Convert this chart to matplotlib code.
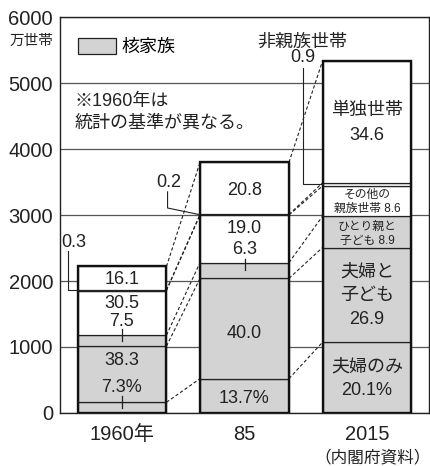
import numpy as np
import matplotlib
matplotlib.use('Agg')
import matplotlib.pyplot as plt
from matplotlib.patches import Patch

plt.rcParams['font.family'] = ['Liberation Sans', 'Noto Sans CJK JP']

# data
years = ['1960年', '85', '2015']
totals = [2220, 3798, 5333]  # 万世帯
# shares (%) from the bottom of each bar
couple_only = [7.3, 13.7, 20.1]
couple_kids = [38.3, 40.0, 26.9]
single_parent = [7.5, 6.3, 8.9]
other_kin = [30.5, 19.0, 8.6]
non_kin = [0.3, 0.2, 0.9]
single = [16.1, 20.8, 34.6]

GRAY = '#d3d3d3'
INK = '#222222'

shares = np.array([couple_only, couple_kids, single_parent, other_kin, non_kin, single])
vals = shares / 100.0 * np.array(totals)
cum = np.cumsum(vals, axis=0)
bottoms = cum - vals
colors = [GRAY, GRAY, GRAY, 'white', 'white', 'white']

x = np.arange(len(years))
w = 0.726

fig = plt.figure(figsize=(4.31, 4.66), dpi=100)
ax = fig.add_axes([60 / 431, 1 - 413 / 466, 369 / 431, 396 / 466])

for k in range(len(vals)):
    ax.bar(x, vals[k], bottom=bottoms[k], width=w, color=colors[k],
           edgecolor=INK, linewidth=0.9, zorder=3)
ax.bar(x, totals, width=w, fill=False, edgecolor='#111111', linewidth=1.7, zorder=4)

# dashed connectors between bars
for i in range(len(x) - 1):
    for k in range(len(vals)):
        ax.plot([x[i] + w / 2, x[i + 1] - w / 2], [cum[k, i], cum[k, i + 1]],
                ls=(0, (3, 2)), color=INK, lw=0.8, zorder=2)

ax.set_xlim(-0.506, 2.506)
ax.set_ylim(0, 6000)
ax.set_yticks(range(0, 6001, 1000))
ax.set_xticks(x, years)
ax.tick_params(length=0, labelsize=14.5, colors=INK)
ax.tick_params(axis='y', pad=5)
ax.tick_params(axis='x', pad=9)
ax.yaxis.grid(True, color='#555555', lw=0.9)
ax.set_axisbelow(True)
for s in ax.spines.values():
    s.set_linewidth(1.0)
    s.set_color(INK)

# labels inside bars
def lab(xi, y, s, size=13):
    ax.text(xi, y, s, ha='center', va='center', fontsize=size, color=INK, zorder=5)

lab(x[0], 2020, f'{single[0]}')
lab(x[0], 1660, f'{other_kin[0]}')
lab(x[0], 1380, f'{single_parent[0]}')
lab(x[0], 800, f'{couple_kids[0]}')
lab(x[0], 390, f'{couple_only[0]}%')

lab(x[1], 3370, f'{single[1]}')
lab(x[1], 2800, f'{other_kin[1]}')
lab(x[1], 2480, f'{single_parent[1]}')
lab(x[1], 1210, f'{couple_kids[1]}')
lab(x[1], 225, f'{couple_only[1]}%')

lab(x[2], 4590, '単独世帯', 13)
lab(x[2], 4210, f'{single[2]}')
lab(x[2], 3300, 'その他の', 8.5)
lab(x[2], 3085, f'親族世帯 {other_kin[2]}', 8.5)
lab(x[2], 2820, 'ひとり親と', 8.5)
lab(x[2], 2600, f'子ども {single_parent[2]}', 8.5)
lab(x[2], 2140, '夫婦と', 13)
lab(x[2], 1775, '子ども', 13)
lab(x[2], 1420, f'{couple_kids[2]}')
lab(x[2], 700, '夫婦のみ', 13)
lab(x[2], 345, f'{couple_only[2]}%')

# small tick marks for thin gray segments
for i, k in [(0, 0), (0, 2), (1, 2)]:
    mid = bottoms[k, i] + vals[k, i] / 2
    ax.plot([x[i], x[i]], [mid, mid + 180], color=INK, lw=0.9, zorder=5)

# leaders for 非親族世帯
nk_mid = bottoms[4] + vals[4] / 2
ax.text(x[0] - 0.39, 2580, f'{non_kin[0]}', ha='center', va='center', fontsize=13, color=INK)
ax.plot([x[0] - 0.44, x[0] - 0.44, x[0] - w / 2], [2450, nk_mid[0], nk_mid[0]],
        color=INK, lw=0.8, zorder=5)
ax.text(x[1] - 0.62, 3500, f'{non_kin[1]}', ha='center', va='center', fontsize=13, color=INK)
ax.plot([x[1] - 0.628, x[1] - 0.628, x[1] - w / 2], [3350, 3106, nk_mid[1]],
        color=INK, lw=0.8, zorder=5)
ax.text(x[2] - 0.52, 5380, f'{non_kin[2]}', ha='center', va='center', fontsize=13, color=INK)
ax.plot([x[2] - 0.522, x[2] - 0.522, x[2] - w / 2], [5230, nk_mid[2], nk_mid[2]],
        color=INK, lw=0.8, zorder=5)
ax.text(x[2] - 0.53, 5620, '非親族世帯', ha='center', va='center', fontsize=13, color=INK)

# legend and note
ax.legend(handles=[Patch(facecolor=GRAY, edgecolor=INK, linewidth=0.9, label='核家族')],
          loc='upper left', bbox_to_anchor=(0.02, 0.975), frameon=False,
          fontsize=13, handlelength=2.1, handleheight=1.0, handletextpad=0.3,
          borderaxespad=0.2)
ax.text(-0.39, 4560, '※1960年は\n統計の基準が異なる。', ha='left', va='center',
        fontsize=13, color=INK, linespacing=1.35)

fig.text(31 / 431, 1 - 41 / 466, '万世帯', ha='center', va='center', fontsize=10.5, color=INK)
fig.text(373 / 431, 1 - 457 / 466, '（内閣府資料）', ha='center', va='center',
         fontsize=12, color=INK)

fig.savefig('out.png', dpi=100)
